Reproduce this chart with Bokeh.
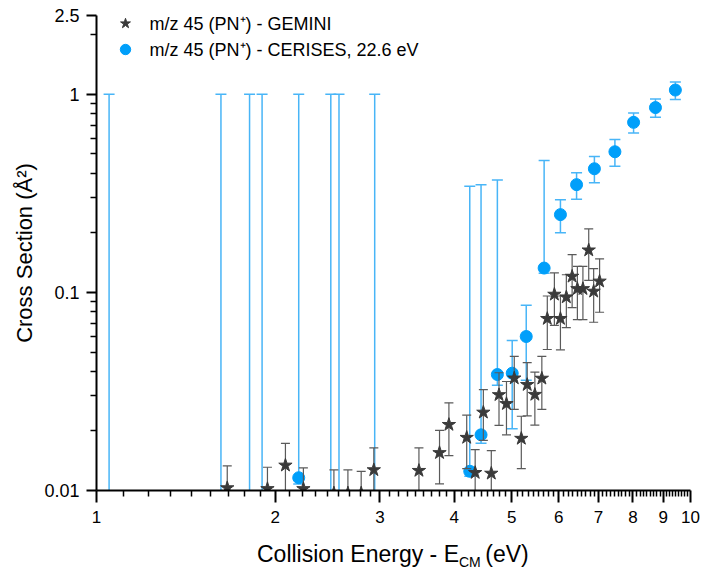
from bokeh.plotting import figure
from bokeh.layouts import column
from bokeh.models import (ColumnDataSource, FixedTicker, Legend, LegendItem, Div,
                          Range1d, NumeralTickFormatter)
from bokeh.embed import file_html
from bokeh.resources import INLINE

# ---- GEMINI (stars): energy (eV), cross section (A^2), lower / upper error
gem_e = [1.66, 1.94, 2.08, 2.23, 2.51, 2.65, 2.79, 2.93, 3.49, 3.78, 3.92, 4.20,
         4.34, 4.48, 4.62, 4.76, 4.90, 5.05, 5.19, 5.31, 5.47, 5.62, 5.74, 5.90,
         6.04, 6.18, 6.32, 6.45, 6.59, 6.74, 6.87, 7.03]
gem_s = [0.0103, 0.0102, 0.0134, 0.0102, 0.0097, 0.0097, 0.0097, 0.0127, 0.0126,
         0.0155, 0.0215, 0.0185, 0.0123, 0.0248, 0.0122, 0.0304, 0.0274, 0.0369,
         0.0183, 0.0342, 0.0305, 0.0368, 0.0737, 0.0977, 0.0737, 0.0947, 0.1204,
         0.1043, 0.1043, 0.1634, 0.1012, 0.1138]
gem_lo = [0.007, 0.007, 0.007, 0.007, 0.006, 0.006, 0.006, 0.007, 0.007, 0.0108,
          0.0150, 0.0129, 0.007, 0.0179, 0.007, 0.0213, 0.0191, 0.0257, 0.0129,
          0.0238, 0.0214, 0.0257, 0.0515, 0.0681, 0.0513, 0.0664, 0.0837, 0.0728,
          0.0728, 0.115, 0.0707, 0.0794]
gem_hi = [0.0133, 0.0131, 0.0173, 0.0130, 0.0127, 0.0127, 0.0125, 0.0164, 0.0164,
          0.0201, 0.0277, 0.0240, 0.0161, 0.0323, 0.0159, 0.0393, 0.0355, 0.0476,
          0.0237, 0.0442, 0.0396, 0.0476, 0.0959, 0.1254, 0.0959, 0.1228, 0.155,
          0.1355, 0.1355, 0.2091, 0.1318, 0.1478]

# ---- CERISES 22.6 eV (circles)
cer_e = [1.05, 1.62, 1.81, 1.90, 2.19, 2.48, 2.56, 2.94, 4.25, 4.44, 4.73, 5.01,
         5.29, 5.67, 6.04, 6.43, 6.89, 7.46, 8.02, 8.73, 9.43]
cer_s = [0.005, 0.005, 0.005, 0.005, 0.0116, 0.005, 0.005, 0.005, 0.0125, 0.0191,
         0.0385, 0.0391, 0.0599, 0.1327, 0.247, 0.350, 0.421, 0.513, 0.722, 0.857,
         1.051]
cer_lo = [0.002, 0.002, 0.002, 0.002, 0.0108, 0.002, 0.002, 0.002, 0.0118, 0.0173,
          0.034, 0.0205, 0.036, 0.125, 0.200, 0.295, 0.358, 0.434, 0.638, 0.765,
          0.943]
cer_hi = [1.0, 1.0, 1.0, 1.0, 1.0, 1.0, 1.0, 1.0, 0.344, 0.350, 0.369, 0.0572,
          0.0861, 0.464, 0.294, 0.402, 0.485, 0.591, 0.805, 0.947, 1.154]

x_major = [1, 2, 3, 4, 5, 6, 7, 8, 9, 10]
x_minor = [n + k / 9 for n in range(1, 10) for k in range(1, 9)]
y_major = [0.01, 0.1, 1, 2.5]
y_minor = [k * 0.01 for k in range(2, 10)] + [k * 0.1 for k in range(2, 10)] + [2]

FONT = "Liberation Sans"
STAR = "#3a3a3a"
STAR_ERR = "#5a5a5a"
BLUE = "#009ffa"
BLUE_ERR = "#48b5f7"

gem = ColumnDataSource(dict(e=gem_e, s=gem_s, lo=gem_lo, hi=gem_hi))
cer = ColumnDataSource(dict(e=cer_e, s=cer_s, lo=cer_lo, hi=cer_hi))

p = figure(width=721, height=530, x_axis_type="log", y_axis_type="log",
           x_range=Range1d(1, 10), y_range=Range1d(0.01, 2.5),
           output_backend="svg", toolbar_location=None,
           min_border_left=96, min_border_right=31, min_border_top=15,
           min_border_bottom=40)
p.outline_line_color = None
p.grid.visible = False
p.background_fill_color = "white"

# CERISES error bars and points
p.segment(x0="e", y0="lo", x1="e", y1="hi", source=cer, line_color=BLUE_ERR, line_width=1.5)
p.scatter(x="e", y="hi", source=cer, marker="dash", size=11, line_color=BLUE_ERR, line_width=1.5)
p.scatter(x="e", y="lo", source=cer, marker="dash", size=11, line_color=BLUE_ERR, line_width=1.5)
r_cer = p.scatter(x="e", y="s", source=cer, marker="circle", size=12,
                  fill_color=BLUE, line_color=BLUE)

# GEMINI error bars and points
p.segment(x0="e", y0="lo", x1="e", y1="hi", source=gem, line_color=STAR_ERR, line_width=1.2)
p.scatter(x="e", y="hi", source=gem, marker="dash", size=9, line_color=STAR_ERR, line_width=1.2)
p.scatter(x="e", y="lo", source=gem, marker="dash", size=9, line_color=STAR_ERR, line_width=1.2)
r_gem = p.scatter(x="e", y="s", source=gem, marker="star", size=14,
                  fill_color=STAR, line_color=STAR)

# axes
for ax in (p.xaxis[0], p.yaxis[0]):
    ax.axis_line_width = 2
    ax.major_tick_line_width = 2
    ax.minor_tick_line_width = 1.5
    ax.major_tick_in = 0
    ax.minor_tick_in = 0
    ax.major_label_text_font = FONT
    ax.major_label_text_color = "black"
    ax.axis_label_text_font = FONT
    ax.axis_label_text_font_style = "normal"
    ax.axis_label_text_color = "black"

xa = p.xaxis[0]
xa.ticker = FixedTicker(ticks=x_major, minor_ticks=x_minor)
xa.formatter = NumeralTickFormatter(format="0")
xa.major_tick_out = 12
xa.minor_tick_out = 6
xa.major_label_text_font_size = "17px"
xa.major_label_standoff = 8
xa.axis_label = None

ya = p.yaxis[0]
ya.ticker = FixedTicker(ticks=y_major, minor_ticks=y_minor)
ya.formatter = NumeralTickFormatter(format="0.[00]")
ya.major_tick_out = 10
ya.minor_tick_out = 6
ya.major_label_text_font_size = "18px"
ya.major_label_standoff = 7
ya.axis_label = "Cross Section (Å²)"
ya.axis_label_text_font_size = "22px"
ya.axis_label_standoff = 4

legend = Legend(items=[
    LegendItem(label="m/z 45 (PN⁺) - GEMINI", renderers=[r_gem]),
    LegendItem(label="m/z 45 (PN⁺) - CERISES, 22.6 eV", renderers=[r_cer]),
], location=(13.5, 427.7))
legend.glyph_width = 30
legend.glyph_height = 26
legend.spacing = 0
legend.padding = 0
legend.margin = 0
legend.label_standoff = 10
legend.label_text_font = FONT
legend.label_text_font_size = "18px"
legend.label_text_color = "black"
legend.label_height = 26
legend.border_line_color = None
legend.background_fill_alpha = 0
p.add_layout(legend)

# x-axis title (with subscript), as real HTML text below the plot
x_title = Div(width=721, height=39, text=(
    '<div style="position:relative;width:721px;height:39px;">'
    '<div style="position:absolute;left:252px;top:6px;white-space:nowrap;'
    "font-family:'Liberation Sans',Arial,sans-serif;font-size:23px;line-height:26px;color:#000;\">"
    'Collision Energy - E<span style="font-size:14px;position:relative;top:4.7px;">CM</span>'
    '<span style="margin-left:4.5px;">(eV)</span></div></div>'))

layout = column(p, x_title, spacing=0)
open("out.html", "w").write(file_html(layout, INLINE))
